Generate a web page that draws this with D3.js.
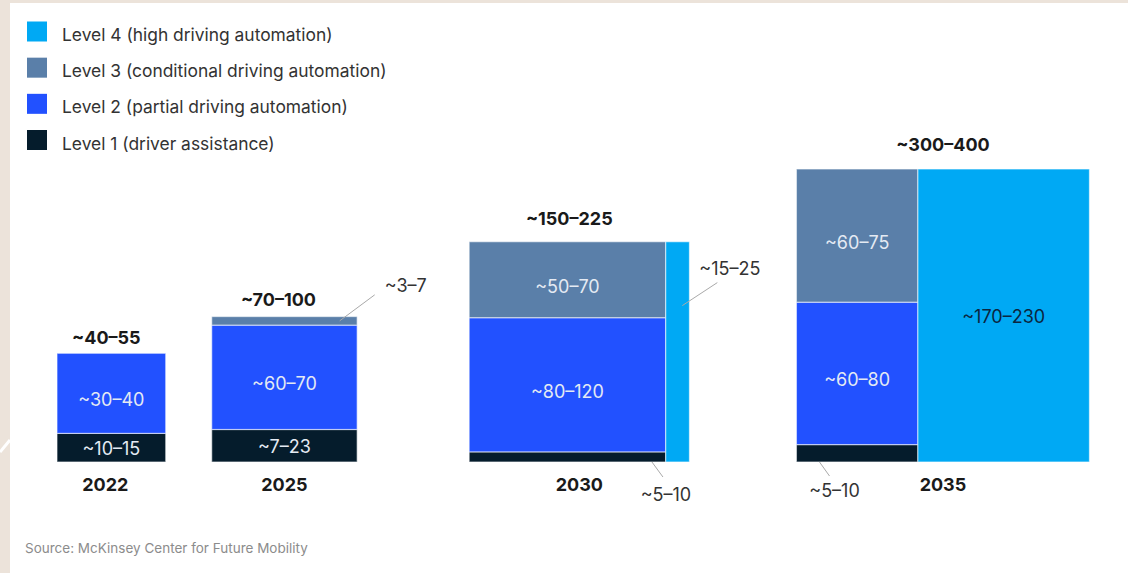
<!DOCTYPE html>
<html>
<head>
<meta charset="utf-8">
<script src="https://cdn.jsdelivr.net/npm/d3@7"></script>
<style>
  html, body { margin: 0; padding: 0; background: #ece3da; }
  svg { display: block; font-family: "Inter", "Liberation Sans", sans-serif; }
</style>
</head>
<body>
<svg id="chart" width="1128" height="573"></svg>
<script>
// ---------------- data ----------------
const years = ["2022", "2025", "2030", "2035"];
const totalLabels = ["~40–55", "~70–100", "~150–225", "~300–400"];
const levelNames = [
  "Level 1 (driver assistance)",
  "Level 2 (partial driving automation)",
  "Level 3 (conditional driving automation)",
  "Level 4 (high driving automation)"
];
// estimated values (million units) read from the areas in the picture
const level1 = [12.5, 19, 8, 8.5];
const level2 = [35, 61, 106, 69.5];
const level3 = [0, 5, 60, 65];
const level4 = [0, 0, 21, 202];
const level1Labels = ["~10–15", "~7–23", "~5–10", "~5–10"];
const level2Labels = ["~30–40", "~60–70", "~80–120", "~60–80"];
const level3Labels = ["", "~3–7", "~50–70", "~60–75"];
const level4Labels = ["", "", "~15–25", "~170–230"];
const source = "Source: McKinsey Center for Future Mobility";

// ---------------- styles / layout ----------------
const colors = ["#051c2c", "#2251ff", "#5a7fa9", "#00a9f4"];
const innerText = ["#e4eaf3", "#e4eaf3", "#e4eaf3", "#0b2640"];
const W = 1128, H = 573;
const baseY = 462;
const firstX = 57;
const gaps = [0, 46, 112, 107];
const totalOffsets = [9, 11, 17, 18];
const totalDx = [-5, -6, -10, 0];
const yearDx = [-6, 0, 0, 0];
const yearBaseline = 491;

const svg = d3.select("#chart");

// background panel
svg.append("rect").attr("x", 0).attr("y", 0).attr("width", W).attr("height", H).attr("fill", "#ece3da");
svg.append("rect").attr("x", 10).attr("y", 3).attr("width", W - 10).attr("height", H - 3).attr("fill", "#ffffff");
svg.append("line").attr("x1", 0).attr("y1", 452).attr("x2", 10).attr("y2", 440)
  .attr("stroke", "#ffffff").attr("stroke-width", 3);

// ---------------- legend ----------------
const legend = svg.append("g");
const legendOrder = [3, 2, 1, 0];
const legendY = d3.scalePoint().domain(legendOrder).range([31.5, 140]);
legendOrder.forEach(li => {
  const y = legendY(li);
  legend.append("rect").attr("x", 27).attr("y", y - 10).attr("width", 20).attr("height", 20)
    .attr("fill", colors[li]);
  legend.append("text").attr("x", 62).attr("y", y + 9.5)
    .attr("font-size", 17.4).attr("fill", "#333").text(levelNames[li]);
});

// ---------------- scales ----------------
const totals = years.map((_, i) => level1[i] + level2[i] + level3[i] + level4[i]);
const side = d3.scaleSqrt().domain([0, d3.max(totals)]).range([0, 293]);

let cursor = firstX;
const blocks = years.map((yr, i) => {
  const s = side(totals[i]);
  const x = cursor + gaps[i];
  cursor = x + s;
  const wScale = d3.scaleLinear().domain([0, totals[i]]).range([0, s]);
  const w4 = wScale(level4[i]);
  const colW = s - w4;
  const colTotal = level1[i] + level2[i] + level3[i];
  const hScale = d3.scaleLinear().domain([0, colTotal]).range([baseY, baseY - s]);
  return { i, yr, x, s, w4, colW, hScale };
});

const vals = [level1, level2, level3, level4];
const labs = [level1Labels, level2Labels, level3Labels, level4Labels];

const segs = [];
blocks.forEach(b => {
  let acc = 0;
  [0, 1, 2].forEach(l => {
    const v = vals[l][b.i];
    if (v > 0) {
      const y0 = b.hScale(acc), y1 = b.hScale(acc + v);
      segs.push({ b, l, x: b.x, y: y1, w: b.colW, h: y0 - y1, label: labs[l][b.i] });
    }
    acc += v;
  });
  if (level4[b.i] > 0) {
    segs.push({ b, l: 3, x: b.x + b.colW, y: baseY - b.s, w: b.w4, h: b.s, label: labs[3][b.i] });
  }
});

const g = svg.append("g");
g.selectAll("rect.seg").data(segs).join("rect")
  .attr("class", "seg")
  .attr("x", d => d.x).attr("y", d => d.y)
  .attr("width", d => d.w).attr("height", d => d.h)
  .attr("fill", d => colors[d.l])
  .attr("stroke", "#ffffff").attr("stroke-opacity", 0.55).attr("stroke-width", 1.2);

// inner labels
const inner = segs.filter(d => d.label && d.h > 22 && d.w > 60);
g.selectAll("text.inner").data(inner).join("text")
  .attr("class", "inner")
  .attr("x", d => d.x + d.w / 2)
  .attr("y", d => d.y + d.h / 2 + 7 + (d.h > 50 && d.l < 3 ? 6 : 0))
  .attr("text-anchor", "middle")
  .attr("font-size", 18)
  .attr("fill", d => innerText[d.l])
  .text(d => d.label);

// callouts for small segments (anchor fraction within segment, line vector, label offset)
const callouts = [
  { yi: 1, l: 2, fx: 0.88, fy: 0.5, dx: 35, dy: -26, tx: 10, ty: -3, anchor: "start" },
  { yi: 2, l: 3, fx: 0.7, fy: 0.29, dx: 35, dy: -23, tx: -18, ty: -8, anchor: "start" },
  { yi: 2, l: 0, fx: 0.93, fy: 1.0, dx: 11, dy: 15, tx: 3, ty: 24, anchor: "middle" },
  { yi: 3, l: 0, fx: 0.19, fy: 1.0, dx: 10, dy: 14, tx: 5, ty: 21, anchor: "middle" }
];
callouts.forEach(c => {
  const s = segs.find(d => d.b.i === c.yi && d.l === c.l);
  const x1 = s.x + s.w * c.fx, y1 = s.y + s.h * c.fy;
  const x2 = x1 + c.dx, y2 = y1 + c.dy;
  g.append("line").attr("x1", x1).attr("y1", y1).attr("x2", x2).attr("y2", y2)
    .attr("stroke", "#a9a9a9").attr("stroke-width", 1);
  g.append("text").attr("x", x2 + c.tx).attr("y", y2 + c.ty)
    .attr("text-anchor", c.anchor).attr("font-size", 18).attr("fill", "#333")
    .text(s.label);
});

// totals and years
g.selectAll("text.total").data(blocks).join("text")
  .attr("class", "total")
  .attr("x", d => d.x + d.s / 2 + totalDx[d.i])
  .attr("y", d => baseY - d.s - totalOffsets[d.i])
  .attr("text-anchor", "middle").attr("font-size", 18).attr("font-weight", 700)
  .attr("fill", "#1a1a1a")
  .text(d => totalLabels[d.i]);

g.selectAll("text.year").data(blocks).join("text")
  .attr("class", "year")
  .attr("x", d => d.x + d.s / 2 + yearDx[d.i])
  .attr("y", yearBaseline)
  .attr("text-anchor", "middle").attr("font-size", 18).attr("font-weight", 700)
  .attr("fill", "#1a1a1a")
  .text(d => d.yr);

svg.append("text").attr("x", 25).attr("y", 553)
  .attr("font-size", 13.5).attr("fill", "#8c8c8c").text(source);
</script>
</body>
</html>
